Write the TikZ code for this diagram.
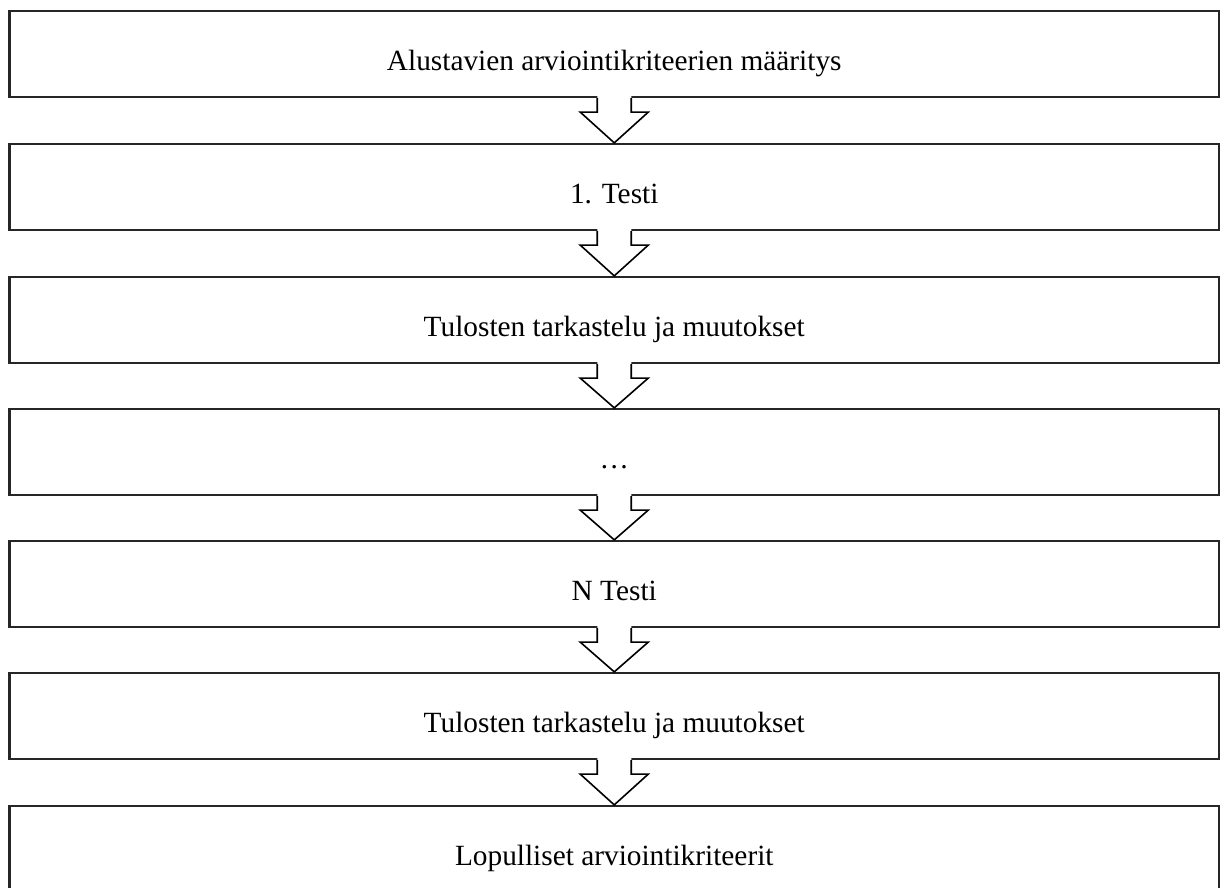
\documentclass[tikz,border=0pt]{standalone}
\usepackage{fontspec}
\setmainfont{Liberation Serif}
\usetikzlibrary{calc}
\begin{document}
\begin{tikzpicture}[x=0.75pt,y=-0.75pt,
  stepbox/.style={draw=black!85, line width=1.7pt, minimum width=907.1pt, minimum height=64.5pt,
    inner sep=0pt, anchor=center, text height=24.4pt, text depth=0pt, font=\fontsize{22}{26}\selectfont},
  flow/.style={draw=black, line width=1.2pt, line join=miter}]
\useasboundingbox (0,0) rectangle (1224,888);
\clip (0,0) rectangle (1224,888);
\node[stepbox] (b1) at (614.25,54) {Alustavien arviointikriteerien määritys};
\node[stepbox] (b2) at (614.25,187) {1. Testi};
\node[stepbox] (b3) at (614.25,320) {Tulosten tarkastelu ja muutokset};
\node[stepbox] (b4) at (614.25,452) {…};
\node[stepbox] (b5) at (614.25,584) {N Testi};
\node[stepbox] (b6) at (614.25,716) {Tulosten tarkastelu ja muutokset};
\node[stepbox] (b7) at (614.25,849) {Lopulliset arviointikriteerit};
\foreach \a/\b in {b1/b2,b2/b3,b3/b4,b4/b5,b5/b6,b6/b7}{
  \fill[white] ($(\a.south)+(-17,-2.5)$) -- ($(\a.south)+(-17,14)$) -- ($(\a.south)+(-34,14)$)
    -- (\b.north) -- ($(\a.south)+(34,14)$) -- ($(\a.south)+(17,14)$) -- ($(\a.south)+(17,-2.5)$) -- cycle;
  \draw[flow] ($(\a.south)+(-17,0)$) -- ($(\a.south)+(-17,14)$) -- ($(\a.south)+(-34,14)$)
    -- (\b.north) -- ($(\a.south)+(34,14)$) -- ($(\a.south)+(17,14)$) -- ($(\a.south)+(17,0)$);
}
\end{tikzpicture}
\end{document}
